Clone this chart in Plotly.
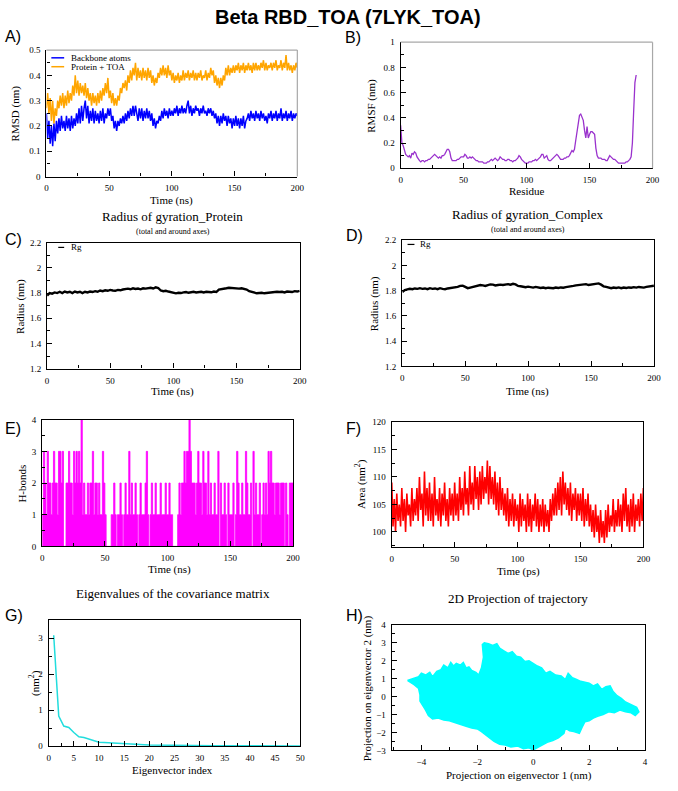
import plotly.graph_objects as go

W, H = 678, 791
SERIF = "Liberation Serif, Times New Roman, serif"
SANS = "Liberation Sans, Arial, sans-serif"

# ---------------- DATA ----------------
time_1ns = list(range(0, 201))
time_2ns = list(range(0, 201, 2))

rmsd_names = ["Backbone atoms", "Protein + TOA"]
rmsd_backbone = [
    0.25,0.15,0.22,0.13,0.20,0.12,0.21,0.14,0.22,0.17,
    0.23,0.18,0.24,0.19,0.22,0.18,0.24,0.19,0.23,0.18,
    0.24,0.19,0.23,0.20,0.25,0.21,0.27,0.21,0.28,0.22,
    0.27,0.30,0.23,0.28,0.21,0.26,0.22,0.27,0.21,0.26,
    0.22,0.25,0.21,0.26,0.22,0.27,0.21,0.25,0.23,0.27,
    0.24,0.27,0.22,0.24,0.19,0.22,0.18,0.22,0.20,0.23,
    0.21,0.24,0.21,0.25,0.22,0.26,0.23,0.27,0.24,0.28,
    0.24,0.28,0.25,0.22,0.27,0.23,0.27,0.22,0.26,0.23,
    0.27,0.23,0.26,0.22,0.25,0.20,0.23,0.19,0.22,0.21,
    0.24,0.22,0.26,0.23,0.27,0.24,0.26,0.23,0.27,0.24,
    0.26,0.24,0.27,0.25,0.28,0.24,0.27,0.25,0.28,0.25,
    0.27,0.25,0.28,0.30,0.25,0.28,0.24,0.27,0.25,0.28,
    0.26,0.27,0.24,0.27,0.25,0.28,0.25,0.26,0.24,0.27,
    0.25,0.27,0.24,0.26,0.23,0.25,0.21,0.24,0.20,0.24,
    0.21,0.25,0.22,0.24,0.20,0.24,0.21,0.23,0.19,0.23,
    0.20,0.24,0.20,0.23,0.19,0.23,0.20,0.24,0.19,0.22,
    0.23,0.25,0.22,0.26,0.23,0.25,0.22,0.26,0.23,0.25,
    0.22,0.26,0.23,0.25,0.22,0.24,0.21,0.25,0.23,0.26,
    0.22,0.25,0.23,0.26,0.22,0.25,0.23,0.27,0.22,0.25,
    0.23,0.26,0.22,0.25,0.23,0.26,0.22,0.25,0.23,0.25,0.24,
]
rmsd_complex = [
    0.27,0.33,0.25,0.31,0.22,0.30,0.21,0.27,0.24,0.30,
    0.27,0.32,0.28,0.33,0.27,0.32,0.28,0.34,0.29,0.33,
    0.30,0.36,0.32,0.40,0.33,0.38,0.32,0.37,0.33,0.36,
    0.32,0.37,0.31,0.35,0.30,0.33,0.28,0.33,0.29,0.32,
    0.28,0.33,0.29,0.34,0.30,0.35,0.32,0.37,0.33,0.39,
    0.31,0.34,0.29,0.33,0.28,0.31,0.28,0.32,0.30,0.35,
    0.33,0.37,0.35,0.38,0.34,0.40,0.37,0.42,0.38,0.43,
    0.40,0.45,0.38,0.43,0.39,0.42,0.38,0.43,0.39,0.42,
    0.38,0.43,0.39,0.42,0.37,0.40,0.36,0.39,0.37,0.41,
    0.39,0.43,0.40,0.44,0.40,0.43,0.39,0.44,0.40,0.42,
    0.38,0.41,0.37,0.40,0.38,0.41,0.37,0.40,0.38,0.42,
    0.38,0.41,0.39,0.42,0.38,0.41,0.39,0.42,0.38,0.41,
    0.38,0.41,0.39,0.42,0.38,0.40,0.39,0.42,0.38,0.41,
    0.39,0.43,0.40,0.42,0.37,0.40,0.36,0.39,0.35,0.39,
    0.36,0.40,0.38,0.43,0.40,0.44,0.40,0.43,0.41,0.44,
    0.41,0.44,0.42,0.45,0.41,0.44,0.42,0.45,0.41,0.44,
    0.42,0.45,0.42,0.44,0.41,0.45,0.42,0.45,0.42,0.44,
    0.42,0.45,0.43,0.46,0.42,0.45,0.42,0.44,0.43,0.45,
    0.42,0.45,0.43,0.46,0.42,0.44,0.43,0.46,0.42,0.45,
    0.43,0.48,0.42,0.45,0.42,0.44,0.41,0.44,0.42,0.45,0.43,
]

residues = list(range(0, 188))
rmsf = [
    0.34,0.20,0.18,0.14,0.11,0.10,0.09,0.10,0.08,0.12,
    0.11,0.13,0.12,0.09,0.07,0.06,0.05,0.06,0.06,0.05,
    0.06,0.06,0.07,0.07,0.08,0.09,0.10,0.11,0.10,0.09,
    0.08,0.09,0.08,0.10,0.10,0.11,0.13,0.15,0.15,0.13,
    0.08,0.06,0.06,0.06,0.06,0.07,0.07,0.08,0.09,0.09,
    0.09,0.11,0.10,0.08,0.08,0.09,0.08,0.09,0.08,0.07,
    0.06,0.06,0.05,0.05,0.05,0.05,0.04,0.04,0.04,0.05,
    0.05,0.06,0.07,0.06,0.07,0.08,0.07,0.06,0.07,0.09,
    0.08,0.07,0.07,0.06,0.06,0.07,0.07,0.06,0.06,0.05,
    0.06,0.06,0.07,0.08,0.10,0.09,0.07,0.06,0.05,0.04,
    0.04,0.04,0.05,0.05,0.05,0.06,0.06,0.07,0.06,0.07,
    0.08,0.09,0.11,0.11,0.08,0.09,0.10,0.07,0.06,0.06,
    0.07,0.08,0.09,0.10,0.11,0.10,0.08,0.07,0.07,0.07,
    0.08,0.08,0.09,0.09,0.10,0.12,0.14,0.13,0.15,0.22,
    0.30,0.37,0.42,0.43,0.41,0.38,0.30,0.24,0.33,0.24,
    0.27,0.29,0.29,0.28,0.27,0.16,0.10,0.08,0.08,0.08,
    0.07,0.07,0.07,0.06,0.06,0.08,0.10,0.09,0.08,0.07,
    0.07,0.06,0.05,0.04,0.04,0.04,0.04,0.04,0.04,0.05,
    0.05,0.06,0.07,0.09,0.20,0.45,0.68,0.74,
]

rg_name = "Rg"
rg_protein = [
    1.78,1.80,1.795,1.805,1.80,1.81,1.80,1.812,1.805,1.81,
    1.80,1.812,1.805,1.81,1.80,1.81,1.805,1.812,1.808,1.815,
    1.81,1.82,1.815,1.822,1.818,1.825,1.82,1.818,1.825,1.822,
    1.828,1.832,1.835,1.83,1.838,1.832,1.836,1.83,1.838,1.835,
    1.838,1.842,1.836,1.845,1.84,1.82,1.815,1.818,1.812,1.808,
    1.80,1.798,1.802,1.80,1.805,1.808,1.802,1.806,1.81,1.805,
    1.808,1.81,1.805,1.81,1.808,1.806,1.812,1.808,1.828,1.83,
    1.832,1.838,1.842,1.84,1.835,1.832,1.835,1.838,1.832,1.828,
    1.815,1.808,1.80,1.798,1.80,1.802,1.798,1.80,1.805,1.808,
    1.805,1.81,1.808,1.81,1.805,1.812,1.81,1.808,1.815,1.812,1.818,
]
rg_complex = [
    1.79,1.805,1.81,1.815,1.812,1.818,1.815,1.82,1.815,1.818,
    1.812,1.82,1.815,1.818,1.812,1.82,1.815,1.812,1.818,1.82,
    1.822,1.825,1.83,1.838,1.84,1.83,1.82,1.825,1.83,1.835,
    1.84,1.845,1.842,1.838,1.845,1.85,1.848,1.842,1.845,1.848,
    1.845,1.85,1.852,1.848,1.855,1.85,1.838,1.835,1.83,1.828,
    1.832,1.828,1.825,1.83,1.826,1.822,1.825,1.82,1.824,1.822,
    1.82,1.825,1.822,1.826,1.824,1.828,1.83,1.835,1.838,1.842,
    1.845,1.85,1.848,1.852,1.845,1.848,1.85,1.855,1.858,1.848,
    1.835,1.83,1.825,1.82,1.825,1.822,1.826,1.82,1.825,1.822,
    1.826,1.824,1.828,1.825,1.83,1.828,1.825,1.83,1.832,1.835,1.84,
]

hbonds = [
    1,3,2,1,3,2,2,1,2,3,
    2,2,1,3,3,2,3,0,0,2,
    2,3,2,2,1,3,2,3,2,3,
    2,4,1,2,1,1,2,1,2,2,
    3,1,2,2,1,2,1,1,3,2,
    1,0,0,0,0,1,1,2,1,0,
    1,1,2,1,0,1,2,1,1,3,
    1,2,1,1,2,1,0,1,2,1,
    1,1,2,3,1,0,1,2,1,1,
    2,1,1,1,2,1,1,1,2,1,
    1,2,1,1,0,0,0,0,1,2,
    1,2,2,3,2,3,3,4,3,2,
    2,2,1,2,3,2,2,1,3,2,
    2,1,3,1,2,1,1,2,1,1,
    3,0,2,1,1,2,1,0,2,1,
    1,1,2,0,1,3,2,1,1,2,
    1,1,3,2,1,1,2,0,3,1,
    2,1,1,2,0,1,2,1,2,1,
    3,2,3,2,2,1,2,2,2,1,
    2,2,2,0,2,1,0,2,2,2,1,
]

sasa = [
    109,101,106,100,107,102,105,101,108,102,
    106,100,107,103,105,101,108,102,106,103,
    108,102,110,104,107,101,111,103,108,102,
    109,102,107,101,110,103,106,102,108,101,
    107,103,109,102,106,101,108,103,107,102,
    109,103,107,102,110,104,108,103,111,105,
    108,103,112,105,109,104,112,106,110,104,
    111,105,112,106,110,107,113,105,112,106,
    110,105,111,104,109,103,110,104,108,103,
    107,102,108,101,106,102,107,101,106,102,
    105,100,107,101,106,102,105,100,107,101,
    106,100,105,102,107,101,106,100,105,101,
    106,100,105,101,104,100,106,102,107,103,
    108,103,109,104,110,103,111,105,109,104,
    108,103,109,102,107,104,108,102,107,103,
    107,102,108,101,106,102,107,101,105,100,
    104,99,105,100,103,98,104,99,102,98,
    104,99,105,100,103,101,106,100,104,101,
    106,101,105,100,107,102,108,101,105,100,
    106,101,107,100,105,102,106,101,107,102,108,
]

eig_index = list(range(1, 51))
eigenvalues = [
    3.08,0.84,0.56,0.52,0.38,0.26,0.24,0.20,0.15,0.11,
    0.10,0.09,0.08,0.07,0.065,0.06,0.05,0.045,0.04,0.035,
    0.032,0.03,0.028,0.026,0.025,0.024,0.022,0.02,0.019,0.018,
    0.017,0.016,0.015,0.014,0.013,0.013,0.012,0.012,0.011,0.011,
    0.01,0.01,0.01,0.009,0.009,0.009,0.008,0.008,0.008,0.008,
]

# outline of the 2D projection cloud (ev1, ev2)
proj_ev1 = [-4.50,-4.30,-4.10,-4.00,-3.85,-3.70,-3.60,-3.45,-3.30,-3.20,-3.05,-2.95,-2.85,-2.75,
            -2.60,-2.50,-2.40,-2.30,-2.20,-2.05,-1.95,-1.85,-1.78,-1.82,-1.75,-1.60,-1.45,-1.30,
            -1.20,-1.05,-0.90,-0.75,-0.60,-0.45,-0.30,-0.15,0.00,0.15,0.30,0.45,0.60,0.80,
            1.00,1.15,1.25,1.40,1.55,1.70,1.85,2.00,2.15,2.30,2.45,2.60,2.75,2.85,
            3.00,3.15,3.30,3.50,3.70,3.78,3.65,3.50,3.30,3.10,2.90,2.70,2.50,2.30,
            2.15,2.00,1.85,1.75,1.65,1.45,1.30,1.15,1.10,0.90,0.70,0.50,0.30,0.10,
            0.00,-0.15,-0.35,-0.55,-0.80,-1.00,-1.20,-1.40,-1.55,-1.70,-1.85,-2.00,-2.20,-2.40,
            -2.60,-2.80,-3.00,-3.20,-3.40,-3.60,-3.75,-3.85,-3.95,-4.05,-4.05,-4.10,-4.25,-4.40,-4.50]
proj_ev2 = [0.90,1.00,1.10,1.30,1.20,1.35,1.10,1.40,1.50,1.75,1.60,1.90,1.70,1.85,
            1.75,1.90,1.60,1.65,1.45,1.35,1.20,1.60,2.20,2.90,3.00,2.95,2.85,2.95,
            2.70,2.55,2.40,2.50,2.25,2.20,1.95,2.00,1.85,1.70,1.60,1.30,1.40,1.20,
            1.15,0.95,1.30,1.05,0.95,0.85,0.80,0.75,0.60,0.70,0.40,0.55,0.60,0.30,
            0.05,-0.10,-0.30,-0.45,-0.60,-0.85,-1.05,-0.90,-0.85,-0.75,-0.90,-0.85,-1.00,-1.10,
            -1.20,-1.35,-1.40,-1.70,-2.05,-1.95,-1.90,-1.75,-2.05,-2.30,-2.45,-2.55,-2.70,-2.85,
            -2.97,-2.85,-2.90,-2.75,-2.80,-2.70,-2.65,-2.50,-2.30,-2.10,-1.95,-1.80,-1.75,-1.65,
            -1.55,-1.45,-1.35,-1.30,-1.20,-1.25,-1.05,-0.75,-0.50,-0.25,0.10,0.45,0.65,0.80,0.90]

# ---------------- LAYOUT HELPERS ----------------
def px(x):
    return x / W

def py(y):
    return 1 - y / H

fig = go.Figure()
layout_axes = {}
shapes = []
annotations = []

def add_panel(n, xd, yd, xr, yr, xdt, xmd, ydt, ymd, light_box=False):
    xs = "" if n == 1 else str(n)
    common = dict(ticks="inside", ticklen=5, tickwidth=1, tickcolor="black",
                  showline=True, linecolor="black", linewidth=1.3,
                  mirror=not light_box, showgrid=False, zeroline=False,
                  tickfont=dict(family=SERIF, size=9, color="black"),
                  ticklabelstandoff=3, fixedrange=True, tick0=0)
    layout_axes["xaxis" + xs] = dict(common, domain=[px(xd[0]), px(xd[1])], range=xr,
                                     dtick=xdt, anchor="y" + xs,
                                     minor=dict(ticks="inside", ticklen=3, dtick=xmd, tick0=0,
                                                tickcolor="black", showgrid=False))
    layout_axes["yaxis" + xs] = dict(common, domain=[py(yd[1]), py(yd[0])], range=yr,
                                     dtick=ydt, anchor="x" + xs,
                                     minor=dict(ticks="inside", ticklen=3, dtick=ymd, tick0=0,
                                                tickcolor="black", showgrid=False))
    if light_box:
        shapes.append(dict(type="line", xref="paper", yref="paper",
                           x0=px(xd[0]), x1=px(xd[1]), y0=py(yd[0]), y1=py(yd[0]),
                           line=dict(color="#A8A8A8", width=1.2)))
        shapes.append(dict(type="line", xref="paper", yref="paper",
                           x0=px(xd[1]), x1=px(xd[1]), y0=py(yd[0]), y1=py(yd[1]),
                           line=dict(color="#A8A8A8", width=1.2)))
    return "x" + xs, "y" + xs

def text(s, x, y, size, family=SERIF, angle=0, xanchor="center"):
    annotations.append(dict(text=s, x=px(x), y=py(y), xref="paper", yref="paper",
                            showarrow=False, xanchor=xanchor, yanchor="middle",
                            textangle=angle, font=dict(family=family, size=size, color="black")))

def legline(x0, x1, y, color, width=1.5):
    shapes.append(dict(type="line", xref="paper", yref="paper",
                       x0=px(x0), x1=px(x1), y0=py(y), y1=py(y),
                       line=dict(color=color, width=width)))

# ---------------- PANELS ----------------
# A
xa, ya = add_panel(1, (45, 299.3), (45.7, 173.7), [0, 200], [0, 0.5], 50, 25, 0.1, 0.05, light_box=True)
fig.add_trace(go.Scatter(x=time_1ns, y=rmsd_backbone, mode="lines", xaxis=xa, yaxis=ya,
                         line=dict(color="#0000FF", width=1.5), name=rmsd_names[0]))
fig.add_trace(go.Scatter(x=time_1ns, y=rmsd_complex, mode="lines", xaxis=xa, yaxis=ya,
                         line=dict(color="#FFA500", width=1.5), name=rmsd_names[1]))
legline(50, 63, 53.5, "#0000FF")
legline(50, 63, 62.5, "#FFA500")
text(rmsd_names[0], 68, 53.5, 9, xanchor="left")
text(rmsd_names[1], 68, 62.5, 9, xanchor="left")
text("Time (ns)", 172, 197.5, 11)
text("RMSD (nm)", 14, 110, 11, angle=-90)
text("A)", 1, 32, 16, family=SANS, xanchor="left")

# B
xb, yb = add_panel(2, (404, 659.3), (37.7, 165.3), [0, 200], [0, 1], 50, 25, 0.2, 0.1, light_box=True)
fig.add_trace(go.Scatter(x=residues, y=rmsf, mode="lines", xaxis=xb, yaxis=yb,
                         line=dict(color="#9A32CD", width=1.3)))
text("Residue", 532, 188.5, 11)
text("RMSF (nm)", 375, 102, 11, angle=-90)
text("B)", 346, 33, 16, family=SANS, xanchor="left")

# C
xc, yc = add_panel(3, (45.7, 301.7), (240.7, 368.3), [0, 200], [1.2, 2.2], 50, 25, 0.2, 0.1)
fig.add_trace(go.Scatter(x=time_2ns, y=rg_protein, mode="lines", xaxis=xc, yaxis=yc,
                         line=dict(color="black", width=2.4)))
text("Radius of gyration_Protein", 173, 214, 13)
text("(total and around axes)", 173, 229, 8)
legline(57, 63, 245.5, "black", 1.2)
text(rg_name, 68, 245.5, 9, xanchor="left")
text("Time (ns)", 173, 391.5, 11)
text("Radius (nm)", 18, 305, 11, angle=-90)
text("C)", 1, 238, 16, family=SANS, xanchor="left")

# D
xdd, ydd = add_panel(4, (405.7, 660.7), (238.3, 366), [0, 200], [1.2, 2.2], 50, 25, 0.2, 0.1)
fig.add_trace(go.Scatter(x=time_2ns, y=rg_complex, mode="lines", xaxis=xdd, yaxis=ydd,
                         line=dict(color="black", width=2.4)))
text("Radius of gyration_Complex", 533, 212, 13)
text("(total and around axes)", 533, 227, 8)
legline(411, 418, 242.5, "black", 1.2)
text(rg_name, 422, 242.5, 9, xanchor="left")
text("Time (ns)", 533, 391.5, 11)
text("Radius (nm)", 377, 302, 11, angle=-90)
text("D)", 347, 233, 16, family=SANS, xanchor="left")

# E
xe, ye = add_panel(5, (40.7, 295), (420, 548.3), [0, 200], [0, 4], 50, 25, 1, 0.5)
fig.add_trace(go.Scatter(x=time_1ns, y=hbonds, mode="lines", xaxis=xe, yaxis=ye,
                         line=dict(color="#FF00FF", width=0.8, shape="hv"),
                         fill="tozeroy", fillcolor="#FF00FF"))
text("Time (ns)", 170, 572, 11)
text("H-bonds", 20, 485, 11, angle=-90)
text("E)", 1, 429, 16, family=SANS, xanchor="left")

# F
xf, yf = add_panel(6, (395, 650), (422.3, 549.3), [0, 200], [97.2, 120], 50, 25, 5, 2.5)
fig.add_trace(go.Scatter(x=time_1ns, y=sasa, mode="lines", xaxis=xf, yaxis=yf,
                         line=dict(color="#FF0000", width=1.6)))
text("Time (ps)", 523, 574, 11)
text("Area (nm<sup>2</sup>)", 364, 485, 11, angle=-90)
text("F)", 347, 429, 16, family=SANS, xanchor="left")

# G
xg, yg = add_panel(7, (47.3, 302.3), (622.7, 750.7), [0, 50], [0, 3.51], 5, 2.5, 1, 0.5)
fig.add_trace(go.Scatter(x=eig_index, y=eigenvalues, mode="lines", xaxis=xg, yaxis=yg,
                         line=dict(color="#22DDDD", width=1.5)))
text("Eigenvalues of the covariance matrix", 173, 596, 13)
text("Eigenvector index", 173, 775, 11)
text("(nm<sup>2</sup>)", 33, 687, 11, angle=-90)
text("G)", 1, 618, 16, family=SANS, xanchor="left")

# H
xh, yh = add_panel(8, (395, 651.7), (627.7, 755), [-5.06, 4], [-3, 4], 2, 1, 1, 0.5)
fig.add_trace(go.Scatter(x=proj_ev1, y=proj_ev2, mode="lines", xaxis=xh, yaxis=yh,
                         line=dict(color="#00FFFF", width=1.5), fill="toself", fillcolor="#00FFFF"))
text("2D Projection of trajectory", 523, 601, 13)
text("Projection on eigenvector 1 (nm)", 524, 780, 11)
text("Projection on eigenvector 2 (nm)", 370, 692, 11, angle=-90)
text("H)", 347, 618, 16, family=SANS, xanchor="left")

# Main title
annotations.append(dict(text="<b>Beta RBD_TOA (7LYK_TOA)</b>", x=px(351), y=py(12), xref="paper",
                        yref="paper", showarrow=False, xanchor="center", yanchor="middle",
                        font=dict(family=SANS, size=20, color="black")))

fig.update_layout(width=W, height=H, margin=dict(l=0, r=0, t=0, b=0),
                  paper_bgcolor="white", plot_bgcolor="white", showlegend=False,
                  shapes=shapes, annotations=annotations, **layout_axes)

fig.write_html("out.html")
